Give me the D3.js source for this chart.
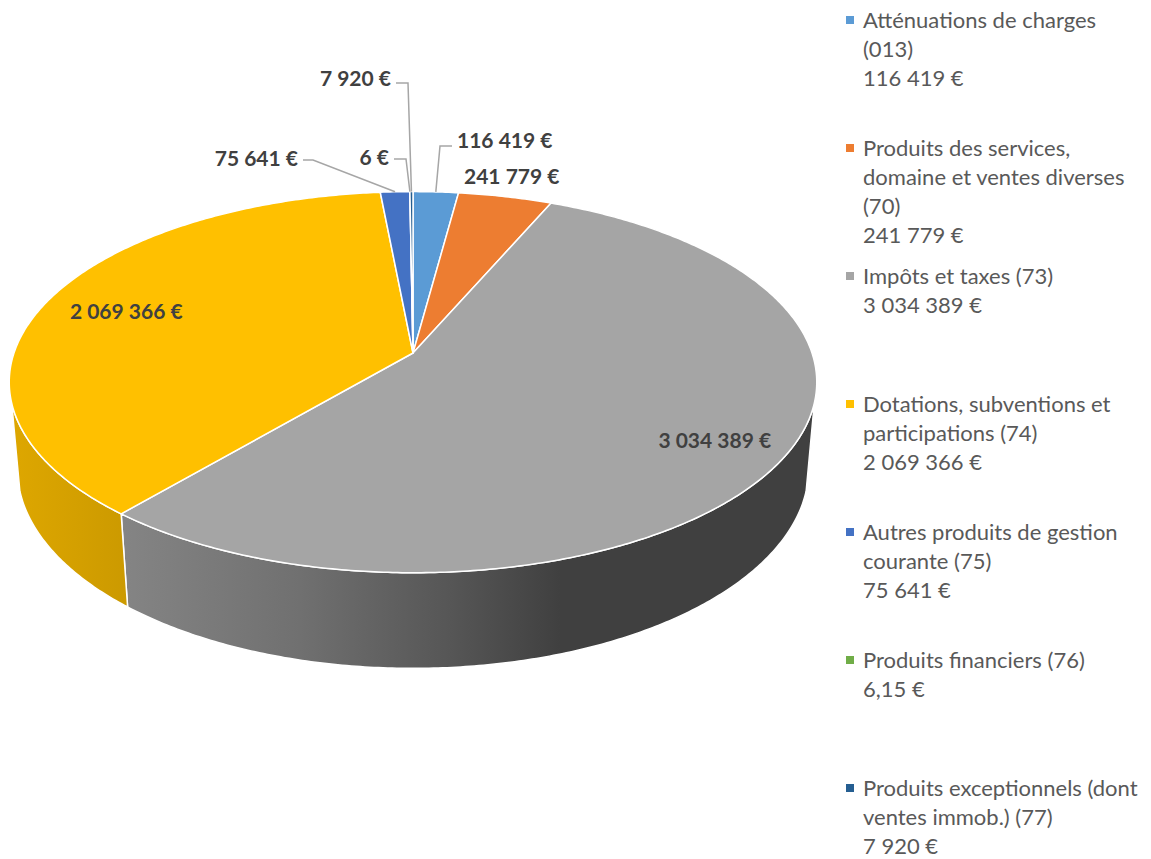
<!DOCTYPE html>
<html>
<head>
<meta charset="utf-8">
<script src="https://cdn.jsdelivr.net/npm/d3@7"></script>
<style>
  body { margin: 0; background: #fff; }
  svg text { font-family: Lato, "Noto Sans", sans-serif; }
</style>
</head>
<body>
<svg id="chart" width="1151" height="859"></svg>
<script>
'use strict';

// --- data ---
var categories = [
    ['Atténuations de charges', '(013)'],
    ['Produits des services,', 'domaine et ventes diverses', '(70)'],
    ['Impôts et taxes (73)'],
    ['Dotations, subventions et', 'participations (74)'],
    ['Autres produits de gestion', 'courante (75)'],
    ['Produits financiers (76)'],
    ['Produits exceptionnels (dont', 'ventes immob.) (77)']
];
var values = [116419, 241779, 3034389, 2069366, 75641, 6.15, 7920];
var colors = ['#5B9BD5', '#ED7D31', '#A5A5A5', '#FFC000', '#4472C4', '#70AD47', '#255E91'];

// --- layout for the data labels (text anchor + leader elbow) ---
var labelLayout = [
    { x: 457, y: 140, anchor: 'start', leader: [[452, 146], [440, 146]] },
    { x: 464, y: 176, anchor: 'start' },
    { t: 0.83, anchor: 'middle' },
    { t: 0.78, anchor: 'middle' },
    { x: 298, y: 158, anchor: 'end', leader: [[303, 160], [313, 160]] },
    { x: 389, y: 157, anchor: 'end', leader: [[394, 159], [406, 159]] },
    { x: 391, y: 78, anchor: 'end', leader: [[396, 83], [408, 83]] }
];

var fr = d3.formatLocale({ decimal: ',', thousands: '\u00a0', grouping: [3], currency: ['', ' €'] });
var fmtInt = fr.format('$,.0f'),
    fmtDec = fr.format('$,.2f');

// --- 3d projection of the pie ---
var cx = 413, cy = 353,
    s = 399,                 // projected radius
    rho = 0.173,             // radius / camera distance
    elev = 27.8 * Math.PI / 180,
    h = 0.0428,              // thickness / camera distance
    wallFrom = 105 * Math.PI / 180;

var proj = function(theta, t, lvl) {
    var wn = 1 + rho * t * Math.cos(theta) * Math.cos(elev) + h * lvl * Math.sin(elev);
    var x = cx + s * t * Math.sin(theta) / wn;
    var y = cy - (s / rho) * (rho * t * Math.cos(theta) * Math.sin(elev) - h * lvl * Math.cos(elev)) / wn;
    return [x, y];
};

var rimPoints = function(a0, a1, lvl) {
    var n = Math.max(2, Math.ceil((a1 - a0) / 0.01)),
        pts = [];
    for (var i = 0; i <= n; i++) {
        pts.push(proj(a0 + (a1 - a0) * i / n, 1, lvl));
    }
    return pts;
};

var line = d3.line();
var svg = d3.select('#chart');
var defs = svg.append('defs');

var arcs = d3.pie().sort(null).value(function(d) { return d; })(values);

// wall shading along x
var shade = [[10, 0.87], [125, 0.80], [300, 0.68], [450, 0.52], [560, 0.39], [817, 0.39]];
arcs.forEach(function(a, i) {
    var g = defs.append('linearGradient')
        .attr('id', 'wall' + i)
        .attr('gradientUnits', 'userSpaceOnUse')
        .attr('x1', 10).attr('x2', 817).attr('y1', 0).attr('y2', 0);
    var base = d3.rgb(colors[i]);
    shade.forEach(function(st) {
        g.append('stop')
            .attr('offset', (st[0] - 10) / 807)
            .attr('stop-color', d3.rgb(base.r * st[1], base.g * st[1], base.b * st[1]).formatHex());
    });
});

// side walls (front part only)
var gWalls = svg.append('g');
arcs.forEach(function(a, i) {
    var a0 = Math.max(a.startAngle, wallFrom),
        a1 = Math.min(a.endAngle, 2 * Math.PI - wallFrom);
    if (a1 <= a0) return;
    var pts = rimPoints(a0, a1, 0).concat(rimPoints(a0, a1, 1).reverse());
    gWalls.append('path')
        .attr('d', line(pts) + 'Z')
        .attr('fill', 'url(#wall' + i + ')')
        .attr('stroke', '#fff')
        .attr('stroke-width', 1.5)
        .attr('stroke-linejoin', 'round');
});

// top faces
var gTop = svg.append('g');
arcs.forEach(function(a, i) {
    var pts = [proj(0, 0, 0)].concat(rimPoints(a.startAngle, a.endAngle, 0));
    gTop.append('path')
        .attr('d', line(pts) + 'Z')
        .attr('fill', colors[i])
        .attr('stroke', '#fff')
        .attr('stroke-width', 1.5)
        .attr('stroke-linejoin', 'round');
});

// data labels
var gLab = svg.append('g');
arcs.forEach(function(a, i) {
    var lay = labelLayout[i],
        mid = (a.startAngle + a.endAngle) / 2,
        txt = fmtInt(a.data),
        pos;
    if (lay.t) {
        pos = proj(mid, lay.t, 0);
    } else {
        pos = [lay.x, lay.y];
    }
    if (lay.leader) {
        var rim = proj(mid, 1, 0);
        gLab.append('path')
            .attr('d', line(lay.leader.concat([rim])))
            .attr('fill', 'none')
            .attr('stroke', '#A6A6A6')
            .attr('stroke-width', 1.5);
    }
    gLab.append('text')
        .attr('x', pos[0]).attr('y', pos[1])
        .attr('dy', '0.36em')
        .attr('text-anchor', lay.anchor)
        .attr('font-size', 21)
        .attr('font-weight', 'bold')
        .attr('fill', '#404040')
        .text(txt);
});

// legend
var gLeg = svg.append('g');
var legTop = 20, legStep = 128, lineH = 29;
categories.forEach(function(lines, i) {
    var y0 = legTop + i * legStep,
        v = values[i],
        all = lines.concat([Number.isInteger(v) ? fmtInt(v) : fmtDec(v)]);
    gLeg.append('rect')
        .attr('x', 846).attr('y', y0 - 4)
        .attr('width', 8).attr('height', 8)
        .attr('fill', colors[i]);
    all.forEach(function(l, j) {
        gLeg.append('text')
            .attr('x', 863).attr('y', y0 + j * lineH)
            .attr('dy', '0.36em')
            .attr('font-size', 22)
            .attr('fill', '#595959')
            .text(l);
    });
});
</script>
</body>
</html>
